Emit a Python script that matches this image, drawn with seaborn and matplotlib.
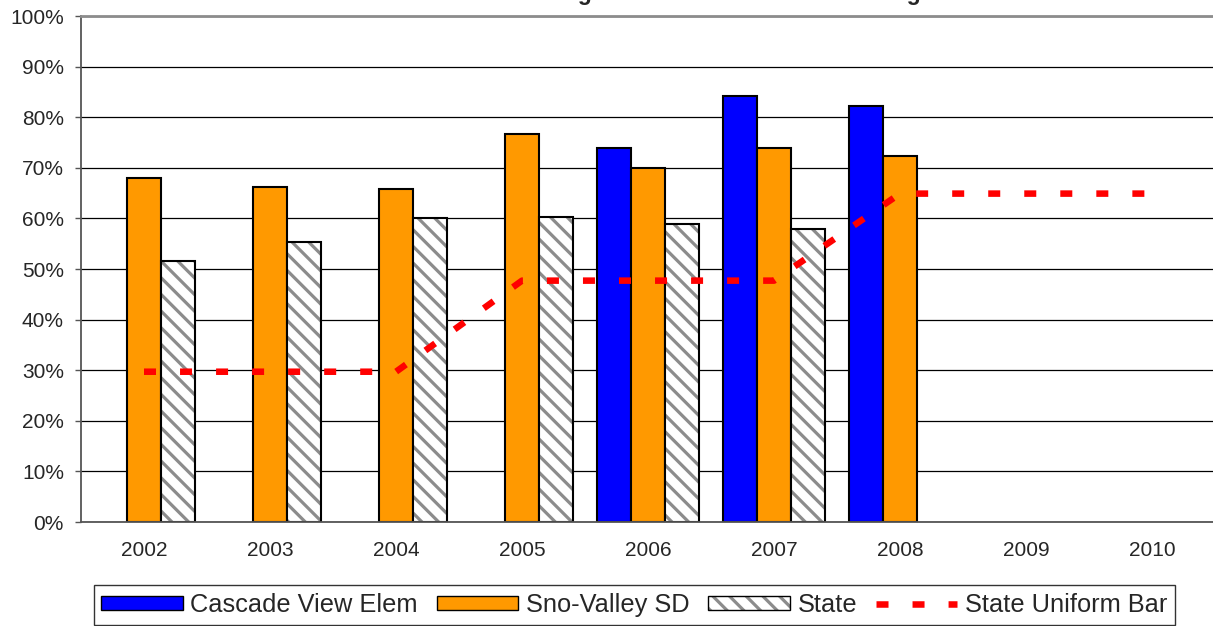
import numpy as np
import pandas as pd
import matplotlib
matplotlib.use("Agg")
import matplotlib.pyplot as plt
import seaborn as sns
from matplotlib.colors import to_rgba
from matplotlib.patches import Patch
from matplotlib.lines import Line2D

# data (percent meeting standard)
years = ["2002", "2003", "2004", "2005", "2006", "2007", "2008", "2009", "2010"]
cascade_view = [np.nan, np.nan, np.nan, np.nan, 73.9, 84.2, 82.3, np.nan, np.nan]
sno_valley = [67.9, 66.3, 65.9, 76.6, 70.0, 73.9, 72.3, np.nan, np.nan]
state = [51.6, 55.3, 60.0, 60.3, 58.8, 58.0, np.nan, np.nan, np.nan]
uniform_bar = [29.7, 29.7, 29.7, 47.7, 47.7, 47.7, 64.9, 64.9, 64.9]

series = ["Cascade View Elem", "Sno-Valley SD", "State"]
bar_colors = ["#0000FF", "#FF9900", "#FFFFFF"]
hatch_gray = "#8C8C8C"

df = pd.DataFrame({
    "Year": years * 3,
    "Series": np.repeat(series, len(years)),
    "Pct": cascade_view + sno_valley + state,
})

sns.set_style("white")
plt.rcParams["font.family"] = ["Liberation Sans", "DejaVu Sans"]
plt.rcParams["hatch.linewidth"] = 2.3

fig = plt.figure(figsize=(12.13, 6.26), dpi=100)
ax = fig.add_axes([81 / 1213, 104 / 626, 1134 / 1213, 506 / 626])

sns.barplot(data=df, x="Year", y="Pct", hue="Series", hue_order=series,
            palette=bar_colors, saturation=1, width=0.81, errorbar=None,
            edgecolor="black", linewidth=1.5, legend=False, ax=ax)

# hatched state bars: gray stripes, black outline
state_bars = ax.containers[2]
for bar in state_bars:
    bar.set_hatch("\\\\")
    bar._hatch_color = to_rgba(hatch_gray)

sns.lineplot(x=np.arange(len(years)), y=uniform_bar, color="red", linewidth=4.7,
             linestyle=(0, (1.84, 3.68)), legend=False, ax=ax)

ax.set_xlim(-0.5, len(years) - 0.5)
ax.set_ylim(0, 100)
ax.set_yticks(range(0, 101, 10))
ax.set_yticklabels([f"{v}%" for v in range(0, 101, 10)])
ax.set_xticks(np.arange(len(years)))
ax.set_xticklabels(years)
ax.set_xticks(np.arange(len(years) + 1) - 0.5, minor=True)
ax.set_xlabel("")
ax.set_ylabel("")

ax.tick_params(axis="x", which="major", length=0, pad=14, labelsize=15)
ax.tick_params(axis="x", which="minor", length=4.3, width=1, color="#555555", direction="out")
ax.tick_params(axis="y", length=4.3, width=1, color="#555555", direction="out",
               pad=8, labelsize=15, left=True)

ax.grid(axis="y", color="black", linewidth=0.9)
ax.set_axisbelow(True)
for side in ["left", "bottom"]:
    ax.spines[side].set_color("#555555")
    ax.spines[side].set_linewidth(1.3)
ax.spines["top"].set_color("#8C8C8C")
ax.spines["top"].set_linewidth(2.0)
ax.spines["right"].set_visible(False)

# title sits mostly above the canvas, as in the reference
fig.text(0.583, 1.0, "4th Grade Reading - Percent of Students Meeting Standard",
         ha="center", va="baseline", fontsize=16.5, fontweight="bold")

state_handle = Patch(facecolor="white", edgecolor="black", hatch="\\\\", linewidth=1.0)
state_handle._hatch_color = to_rgba(hatch_gray)
handles = [
    Patch(facecolor=bar_colors[0], edgecolor="black", linewidth=1.0),
    Patch(facecolor=bar_colors[1], edgecolor="black", linewidth=1.0),
    state_handle,
    Line2D([0], [0], color="red", linewidth=4.7, linestyle=(0, (1.84, 3.68))),
]
labels = series + ["State Uniform Bar"]
leg = fig.legend(handles, labels, loc="center", bbox_to_anchor=(0.523, 0.0335),
                 ncol=4, fontsize=18.3, frameon=True, fancybox=False,
                 edgecolor="black", handlelength=3.2, handleheight=0.5,
                 handletextpad=0.3, columnspacing=0.75, borderpad=0.3)
leg.get_frame().set_linewidth(1.0)

fig.savefig("out.png", dpi=100)
